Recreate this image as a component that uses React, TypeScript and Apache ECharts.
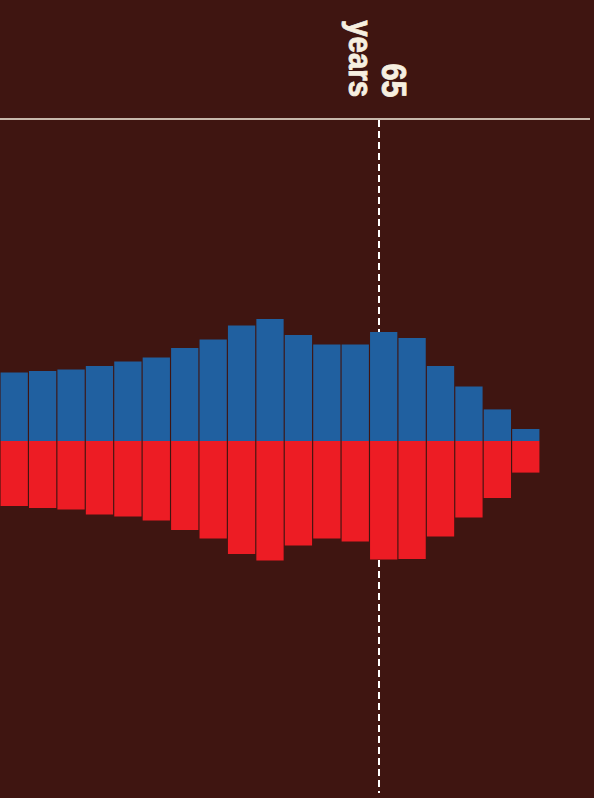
import React, { useEffect, useRef } from "react";
import * as echarts from "echarts";

const ageGroups = [
  "0-4", "5-9", "10-14", "15-19", "20-24", "25-29", "30-34", "35-39", "40-44",
  "45-49", "50-54", "55-59", "60-64", "65-69", "70-74", "75-79", "80-84", "85-89", "90+",
];
const upperValues = [3.43, 3.5, 3.58, 3.75, 3.97, 4.18, 4.65, 5.08, 5.78, 6.1, 5.3, 4.82, 4.82, 5.45, 5.15, 3.75, 2.72, 1.58, 0.6];
const lowerValues = [-3.25, -3.35, -3.43, -3.68, -3.78, -3.98, -4.45, -4.87, -5.65, -5.98, -5.22, -4.87, -5.03, -5.92, -5.9, -4.78, -3.83, -2.85, -1.58];
const markerLabel = ["65", "years"];

const BG = "#3f1511";
const BLUE = "#2060a0";
const RED = "#ed1c24";
const CREAM = "#f6efe0";
const FONT = "'Liberation Sans', Arial, sans-serif";

export default function App() {
  const ref = useRef<HTMLDivElement>(null);
  useEffect(() => {
    if (!ref.current) return;
    const chart = echarts.init(ref.current, undefined, { renderer: "svg" });
    chart.setOption({
      animation: false,
      backgroundColor: BG,
      grid: { left: -1.5, width: 541.5, top: 119, bottom: 8, containLabel: false },
      xAxis: {
        type: "category",
        data: ageGroups,
        show: false,
        boundaryGap: true,
      },
      yAxis: {
        type: "value",
        min: -17.45,
        max: 16.1,
        show: false,
        splitLine: { show: false },
      },
      series: [
        {
          type: "bar",
          data: upperValues,
          barCategoryGap: "4%",
          barGap: "-100%",
          itemStyle: { color: BLUE },
        },
        {
          type: "bar",
          data: lowerValues,
          barCategoryGap: "4%",
          barGap: "-100%",
          itemStyle: { color: RED },
        },
      ],
      graphic: [
        {
          type: "line",
          shape: { x1: 0, y1: 119, x2: 590, y2: 119 },
          style: { stroke: CREAM, lineWidth: 1.3 },
          silent: true,
        },
        {
          type: "line",
          shape: { x1: 379, y1: 120, x2: 379, y2: 793 },
          style: { stroke: "#ffffff", lineWidth: 2, lineDash: [7, 4] },
          silent: true,
        },
        {
          type: "text",
          x: 394.7,
          y: 97.5,
          rotation: -Math.PI / 2,
          scaleX: 0.85,
          style: {
            text: markerLabel[0],
            fill: CREAM,
            stroke: CREAM,
            lineWidth: 0.9,
            fontSize: 36,
            fontWeight: "bold",
            fontFamily: FONT,
            align: "right",
            verticalAlign: "middle",
          },
        },
        {
          type: "text",
          x: 360,
          y: 97,
          rotation: -Math.PI / 2,
          scaleX: 0.89,
          style: {
            text: markerLabel[1],
            fill: CREAM,
            stroke: CREAM,
            lineWidth: 0.9,
            fontSize: 33,
            fontWeight: "bold",
            fontFamily: FONT,
            align: "right",
            verticalAlign: "middle",
          },
        },
      ],
    });
    return () => chart.dispose();
  }, []);
  return (
    <div
      ref={ref}
      style={{ position: "fixed", left: 0, top: 0, width: 594, height: 798 }}
    />
  );
}
